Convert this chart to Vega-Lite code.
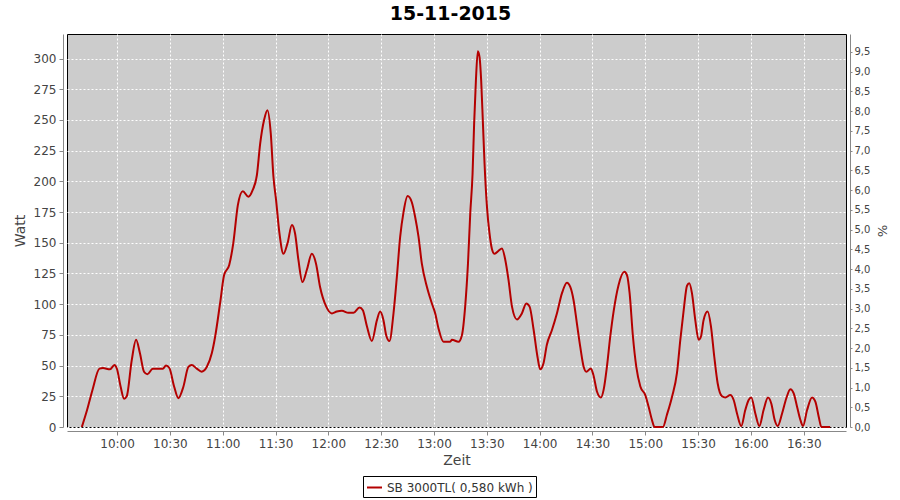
{
  "$schema": "https://vega.github.io/schema/vega-lite/v6.json",
  "autosize": "none",
  "width": 779,
  "height": 393,
  "padding": {"left": 67, "top": 34, "right": 54, "bottom": 73},
  "background": "white",
  "title": {"text": "15-11-2015", "fontSize": 19, "fontWeight": "bold", "color": "#000000", "font": "DejaVu Sans", "anchor": "middle", "offset": 7, "dx": -6},
  "config": {
    "font": "DejaVu Sans",
    "view": {"fill": "#cccccc", "stroke": "#000000", "strokeWidth": 1}
  },
  "datasets": {
    "power": [
      {"t": "2015-11-15T09:40:00", "w": 0},
      {"t": "2015-11-15T09:43:00", "w": 14},
      {"t": "2015-11-15T09:46:00", "w": 30},
      {"t": "2015-11-15T09:50:00", "w": 47.5},
      {"t": "2015-11-15T09:52:00", "w": 48},
      {"t": "2015-11-15T09:56:00", "w": 47},
      {"t": "2015-11-15T09:58:30", "w": 50.5},
      {"t": "2015-11-15T10:00:00", "w": 47},
      {"t": "2015-11-15T10:02:00", "w": 33},
      {"t": "2015-11-15T10:04:00", "w": 23},
      {"t": "2015-11-15T10:05:30", "w": 25},
      {"t": "2015-11-15T10:08:18", "w": 54},
      {"t": "2015-11-15T10:10:48", "w": 71},
      {"t": "2015-11-15T10:13:00", "w": 60},
      {"t": "2015-11-15T10:15:18", "w": 45},
      {"t": "2015-11-15T10:17:12", "w": 43},
      {"t": "2015-11-15T10:20:18", "w": 47.5},
      {"t": "2015-11-15T10:26:00", "w": 47.5},
      {"t": "2015-11-15T10:27:48", "w": 50},
      {"t": "2015-11-15T10:29:42", "w": 48},
      {"t": "2015-11-15T10:32:24", "w": 33},
      {"t": "2015-11-15T10:34:48", "w": 23.5},
      {"t": "2015-11-15T10:37:42", "w": 33},
      {"t": "2015-11-15T10:40:30", "w": 49},
      {"t": "2015-11-15T10:42:24", "w": 50.5},
      {"t": "2015-11-15T10:45:18", "w": 47.5},
      {"t": "2015-11-15T10:48:00", "w": 45},
      {"t": "2015-11-15T10:51:00", "w": 49},
      {"t": "2015-11-15T10:53:48", "w": 60},
      {"t": "2015-11-15T10:55:42", "w": 73.5},
      {"t": "2015-11-15T10:58:30", "w": 100.6},
      {"t": "2015-11-15T11:00:48", "w": 123.7},
      {"t": "2015-11-15T11:03:42", "w": 132},
      {"t": "2015-11-15T11:06:00", "w": 149.5},
      {"t": "2015-11-15T11:08:36", "w": 180.6},
      {"t": "2015-11-15T11:11:24", "w": 192},
      {"t": "2015-11-15T11:14:36", "w": 187.4},
      {"t": "2015-11-15T11:17:00", "w": 192.8},
      {"t": "2015-11-15T11:19:24", "w": 205},
      {"t": "2015-11-15T11:21:18", "w": 231},
      {"t": "2015-11-15T11:23:30", "w": 250},
      {"t": "2015-11-15T11:25:24", "w": 258},
      {"t": "2015-11-15T11:27:18", "w": 239},
      {"t": "2015-11-15T11:28:48", "w": 204},
      {"t": "2015-11-15T11:30:18", "w": 185},
      {"t": "2015-11-15T11:32:12", "w": 158},
      {"t": "2015-11-15T11:34:30", "w": 141},
      {"t": "2015-11-15T11:36:48", "w": 149.5},
      {"t": "2015-11-15T11:39:18", "w": 164.5},
      {"t": "2015-11-15T11:41:06", "w": 157.6},
      {"t": "2015-11-15T11:43:00", "w": 136},
      {"t": "2015-11-15T11:45:18", "w": 118},
      {"t": "2015-11-15T11:47:48", "w": 128},
      {"t": "2015-11-15T11:50:36", "w": 141},
      {"t": "2015-11-15T11:53:00", "w": 133},
      {"t": "2015-11-15T11:55:18", "w": 114},
      {"t": "2015-11-15T11:58:48", "w": 98},
      {"t": "2015-11-15T12:02:00", "w": 92.5},
      {"t": "2015-11-15T12:04:48", "w": 94},
      {"t": "2015-11-15T12:07:42", "w": 94.6},
      {"t": "2015-11-15T12:11:24", "w": 93},
      {"t": "2015-11-15T12:14:18", "w": 93},
      {"t": "2015-11-15T12:17:42", "w": 97.4},
      {"t": "2015-11-15T12:19:36", "w": 95},
      {"t": "2015-11-15T12:21:54", "w": 82},
      {"t": "2015-11-15T12:24:42", "w": 70},
      {"t": "2015-11-15T12:27:36", "w": 87},
      {"t": "2015-11-15T12:29:24", "w": 94},
      {"t": "2015-11-15T12:31:18", "w": 87},
      {"t": "2015-11-15T12:32:48", "w": 75},
      {"t": "2015-11-15T12:34:42", "w": 70},
      {"t": "2015-11-15T12:37:00", "w": 92.5},
      {"t": "2015-11-15T12:38:54", "w": 122},
      {"t": "2015-11-15T12:40:48", "w": 155},
      {"t": "2015-11-15T12:42:42", "w": 175},
      {"t": "2015-11-15T12:45:00", "w": 188},
      {"t": "2015-11-15T12:47:24", "w": 183},
      {"t": "2015-11-15T12:49:18", "w": 171},
      {"t": "2015-11-15T12:51:12", "w": 155},
      {"t": "2015-11-15T12:53:06", "w": 133},
      {"t": "2015-11-15T12:56:00", "w": 114},
      {"t": "2015-11-15T12:58:48", "w": 100.6},
      {"t": "2015-11-15T13:00:42", "w": 92.5},
      {"t": "2015-11-15T13:02:36", "w": 80},
      {"t": "2015-11-15T13:05:24", "w": 69.4},
      {"t": "2015-11-15T13:09:12", "w": 69.4},
      {"t": "2015-11-15T13:10:12", "w": 71},
      {"t": "2015-11-15T13:13:54", "w": 69.4},
      {"t": "2015-11-15T13:15:54", "w": 75},
      {"t": "2015-11-15T13:17:42", "w": 98},
      {"t": "2015-11-15T13:19:18", "w": 133},
      {"t": "2015-11-15T13:20:36", "w": 174},
      {"t": "2015-11-15T13:21:54", "w": 206},
      {"t": "2015-11-15T13:22:48", "w": 247},
      {"t": "2015-11-15T13:23:48", "w": 282},
      {"t": "2015-11-15T13:24:54", "w": 306},
      {"t": "2015-11-15T13:25:54", "w": 301},
      {"t": "2015-11-15T13:26:48", "w": 282},
      {"t": "2015-11-15T13:27:48", "w": 247},
      {"t": "2015-11-15T13:28:42", "w": 215},
      {"t": "2015-11-15T13:30:06", "w": 179},
      {"t": "2015-11-15T13:31:30", "w": 158},
      {"t": "2015-11-15T13:32:54", "w": 145},
      {"t": "2015-11-15T13:34:24", "w": 141},
      {"t": "2015-11-15T13:36:42", "w": 143.5},
      {"t": "2015-11-15T13:38:36", "w": 145.4},
      {"t": "2015-11-15T13:40:30", "w": 136},
      {"t": "2015-11-15T13:42:18", "w": 120},
      {"t": "2015-11-15T13:44:18", "w": 98},
      {"t": "2015-11-15T13:47:06", "w": 87.6},
      {"t": "2015-11-15T13:49:54", "w": 92.5},
      {"t": "2015-11-15T13:52:24", "w": 100.6},
      {"t": "2015-11-15T13:54:18", "w": 98},
      {"t": "2015-11-15T13:56:30", "w": 80},
      {"t": "2015-11-15T13:58:48", "w": 57},
      {"t": "2015-11-15T14:00:18", "w": 47},
      {"t": "2015-11-15T14:02:12", "w": 52},
      {"t": "2015-11-15T14:04:06", "w": 67},
      {"t": "2015-11-15T14:07:00", "w": 79},
      {"t": "2015-11-15T14:09:48", "w": 92.5},
      {"t": "2015-11-15T14:12:42", "w": 109},
      {"t": "2015-11-15T14:15:30", "w": 117.4},
      {"t": "2015-11-15T14:17:24", "w": 114},
      {"t": "2015-11-15T14:19:18", "w": 103},
      {"t": "2015-11-15T14:21:12", "w": 84},
      {"t": "2015-11-15T14:23:06", "w": 65},
      {"t": "2015-11-15T14:25:00", "w": 49},
      {"t": "2015-11-15T14:26:30", "w": 45},
      {"t": "2015-11-15T14:29:06", "w": 47.7},
      {"t": "2015-11-15T14:30:36", "w": 42},
      {"t": "2015-11-15T14:32:36", "w": 28.7},
      {"t": "2015-11-15T14:34:48", "w": 24},
      {"t": "2015-11-15T14:36:18", "w": 30},
      {"t": "2015-11-15T14:38:12", "w": 49},
      {"t": "2015-11-15T14:40:06", "w": 73.5},
      {"t": "2015-11-15T14:42:00", "w": 94},
      {"t": "2015-11-15T14:44:48", "w": 115.5},
      {"t": "2015-11-15T14:48:06", "w": 126.4},
      {"t": "2015-11-15T14:49:36", "w": 123.7},
      {"t": "2015-11-15T14:51:06", "w": 109},
      {"t": "2015-11-15T14:53:00", "w": 73.5},
      {"t": "2015-11-15T14:54:54", "w": 49},
      {"t": "2015-11-15T14:57:12", "w": 33},
      {"t": "2015-11-15T15:00:00", "w": 26},
      {"t": "2015-11-15T15:01:54", "w": 16.5},
      {"t": "2015-11-15T15:03:48", "w": 5.7},
      {"t": "2015-11-15T15:05:18", "w": 0},
      {"t": "2015-11-15T15:10:00", "w": 0},
      {"t": "2015-11-15T15:12:18", "w": 10},
      {"t": "2015-11-15T15:15:12", "w": 24.7},
      {"t": "2015-11-15T15:18:00", "w": 44},
      {"t": "2015-11-15T15:19:54", "w": 71},
      {"t": "2015-11-15T15:21:48", "w": 95},
      {"t": "2015-11-15T15:23:42", "w": 115},
      {"t": "2015-11-15T15:25:00", "w": 117},
      {"t": "2015-11-15T15:26:30", "w": 109},
      {"t": "2015-11-15T15:28:24", "w": 87},
      {"t": "2015-11-15T15:30:18", "w": 71},
      {"t": "2015-11-15T15:31:36", "w": 73.5},
      {"t": "2015-11-15T15:33:06", "w": 87},
      {"t": "2015-11-15T15:35:24", "w": 94},
      {"t": "2015-11-15T15:37:18", "w": 82},
      {"t": "2015-11-15T15:39:12", "w": 57},
      {"t": "2015-11-15T15:41:06", "w": 35.6},
      {"t": "2015-11-15T15:43:36", "w": 25},
      {"t": "2015-11-15T15:45:30", "w": 24},
      {"t": "2015-11-15T15:48:18", "w": 26},
      {"t": "2015-11-15T15:50:12", "w": 22},
      {"t": "2015-11-15T15:52:06", "w": 11},
      {"t": "2015-11-15T15:54:30", "w": 0.8},
      {"t": "2015-11-15T15:56:48", "w": 13.8},
      {"t": "2015-11-15T15:58:42", "w": 22},
      {"t": "2015-11-15T16:00:12", "w": 24},
      {"t": "2015-11-15T16:02:30", "w": 11},
      {"t": "2015-11-15T16:04:48", "w": 0.8},
      {"t": "2015-11-15T16:07:12", "w": 13.8},
      {"t": "2015-11-15T16:09:42", "w": 24},
      {"t": "2015-11-15T16:11:36", "w": 19},
      {"t": "2015-11-15T16:13:30", "w": 5.7},
      {"t": "2015-11-15T16:15:12", "w": 0.8},
      {"t": "2015-11-15T16:17:42", "w": 11},
      {"t": "2015-11-15T16:20:06", "w": 23.4},
      {"t": "2015-11-15T16:22:24", "w": 30.7},
      {"t": "2015-11-15T16:24:18", "w": 27.4},
      {"t": "2015-11-15T16:26:12", "w": 16.5},
      {"t": "2015-11-15T16:28:06", "w": 5.7},
      {"t": "2015-11-15T16:29:36", "w": 0.8},
      {"t": "2015-11-15T16:31:54", "w": 13.8},
      {"t": "2015-11-15T16:34:42", "w": 24},
      {"t": "2015-11-15T16:36:36", "w": 20.6},
      {"t": "2015-11-15T16:38:30", "w": 8.4},
      {"t": "2015-11-15T16:40:00", "w": 0},
      {"t": "2015-11-15T16:45:00", "w": 0}
    ],
    "pctRange": [{"pct": 0}, {"pct": 9.95}]
  },
  "layer": [
    {
      "data": {"name": "power"},
      "mark": {"type": "line", "strokeWidth": 2, "interpolate": "monotone"},
      "encoding": {
        "x": {
          "field": "t", "type": "temporal",
          "scale": {"domain": ["2015-11-15T09:31:34", "2015-11-15T16:54:00"], "nice": false},
          "axis": {
            "title": "Zeit", "format": "%H:%M", "tickCount": 14,
            "offset": 4, "domainColor": "#888888", "tickColor": "#888888", "tickSize": 4,
            "labelFontSize": 12, "labelColor": "#444444", "labelPadding": 3, "labelFlush": false,
            "titleFontSize": 14, "titleFontWeight": "normal", "titleColor": "#444444", "titlePadding": 4,
            "grid": true, "gridColor": "#ffffff", "gridDash": [2, 2], "gridWidth": 1, "gridOpacity": 1
          }
        },
        "y": {
          "field": "w", "type": "quantitative",
          "scale": {"domain": [0, 320], "nice": false},
          "axis": {
            "title": "Watt", "values": [0, 25, 50, 75, 100, 125, 150, 175, 200, 225, 250, 275, 300],
            "orient": "left", "offset": 4, "domainColor": "#888888", "tickColor": "#888888", "tickSize": 4,
            "labelFontSize": 12, "labelColor": "#444444", "labelPadding": 3,
            "titleFontSize": 14, "titleFontWeight": "normal", "titleColor": "#444444", "titlePadding": 6,
            "grid": true, "gridColor": "#ffffff", "gridDash": [2, 2], "gridWidth": 1, "gridOpacity": 1
          }
        },
        "color": {
          "datum": "SB 3000TL( 0,580 kWh )",
          "type": "nominal",
          "scale": {"range": ["#b40000"]},
          "legend": {
            "title": null, "orient": "none", "legendX": 296, "legendY": 442,
            "strokeColor": "#000000", "padding": 3, "fillColor": "#ffffff",
            "symbolType": "stroke", "symbolStrokeWidth": 2, "symbolSize": 225,
            "labelFontSize": 12, "labelColor": "#333333", "labelLimit": 300
          }
        }
      }
    },
    {
      "data": {"name": "pctRange"},
      "mark": {"type": "point", "opacity": 0},
      "encoding": {
        "y": {
          "field": "pct", "type": "quantitative",
          "scale": {"domain": [0, 9.95], "nice": false},
          "axis": {
            "title": "%", "orient": "right", "values": [0, 0.5, 1, 1.5, 2, 2.5, 3, 3.5, 4, 4.5, 5, 5.5, 6, 6.5, 7, 7.5, 8, 8.5, 9, 9.5],
            "labelExpr": "replace(format(datum.value, '.1f'), '.', ',')",
            "offset": 4, "domainColor": "#888888", "tickColor": "#888888", "tickSize": 2,
            "labelFontSize": 10, "labelColor": "#444444", "labelPadding": 2,
            "titleFontSize": 13, "titleFontWeight": "normal", "titleColor": "#444444", "titlePadding": 5,
            "grid": false
          }
        }
      }
    }
  ],
  "resolve": {"scale": {"y": "independent"}}
}
